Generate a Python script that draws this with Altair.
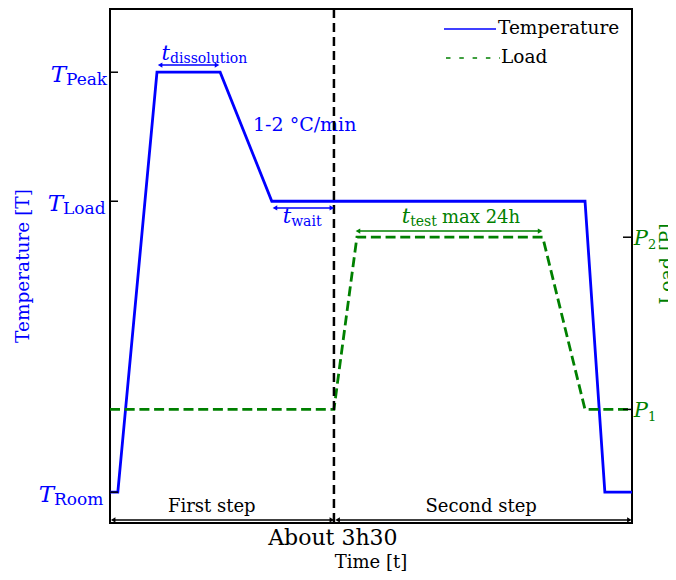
import altair as alt
import pandas as pd

# ---------------- data ----------------
SERIES = ["Temperature", "Load"]

T_LEVEL_NAMES = ["Room", "Load", "Peak"]
T_LEVELS = [6.0, 62.6, 87.7]
P_LEVEL_NAMES = ["1", "2"]
P_LEVELS = [22.1, 55.6]

TEMP_TIME = [0.0, 1.5, 9.0, 21.1, 31.0, 91.0, 94.8, 100.0]
TEMP_VALUE = [6.0, 6.0, 87.7, 87.7, 62.6, 62.6, 6.0, 6.0]
LOAD_TIME = [0.0, 42.9, 47.3, 82.9, 91.0, 100.0]
LOAD_VALUE = [22.1, 22.1, 55.6, 55.6, 22.1, 22.1]
STEP_BOUNDARY = [42.9]

ARROW_START = [9.6, 31.6, 47.5, 0.6, 43.6]
ARROW_END = [20.5, 42.5, 82.4, 42.5, 99.5]
ARROW_LEVEL = [89.1, 61.3, 56.8, 0.6, 0.6]
ARROW_GROUP = ["blue", "blue", "green", "black", "black"]

SUB_MAIN = ["t", "t", "t"]
SUB_TEXT = ["dissolution", "wait", "test"]
SUB_TIME = [11.5, 34.7, 57.5]
SUB_LEVEL = [90.1, 58.4, 58.4]
SUB_GROUP = ["blue", "blue", "green"]

RATE_LABEL = ["1-2 °C/min"]
RATE_TIME = [27.4]
RATE_LEVEL = [77.4]

TEST_EXTRA = ["max 24h"]
TEST_EXTRA_TIME = [63.6]
TEST_EXTRA_LEVEL = [58.4]

STEP_LABELS = ["First step", "Second step"]
STEP_LABEL_TIME = [19.5, 71.1]
STEP_LABEL_LEVEL = [3.1, 3.1]

DURATION_LABEL = ["About 3h30"]
DURATION_TIME = [42.7]
DURATION_LEVEL = [-2.9]

X_TITLE = ["Time [t]"]
X_TITLE_TIME = [50.0]
X_TITLE_LEVEL = [-7.7]

# ---------------- styles ----------------
BLUE = "#0000ff"
GREEN = "#008000"
COLORS = {"blue": BLUE, "green": GREEN, "black": "black"}
FONT = "DejaVu Serif"
W, H = 522, 514
T_ANCHOR_PX = [-56, -47, -44]   # where the italic T ends / subscript begins
LEGEND_X0, LEGEND_X1 = 334, 386
LEGEND_ROWS_PX = [20, 49]

XS = alt.Scale(domain=[0, 100], zero=False, nice=False)
YS = alt.Scale(domain=[0, 100], zero=False, nice=False)


def xq(f):
    return alt.X(f + ":Q", scale=XS, axis=None)


def yq(f):
    return alt.Y(f + ":Q", scale=YS, axis=None)


# ---------------- tables ----------------
temp_df = pd.DataFrame({"idx": range(len(TEMP_TIME)), "t": TEMP_TIME, "v": TEMP_VALUE})
load_df = pd.DataFrame({"idx": range(len(LOAD_TIME)), "t": LOAD_TIME, "v": LOAD_VALUE})

arrow_df = pd.DataFrame({"t0": ARROW_START, "t1": ARROW_END, "v": ARROW_LEVEL,
                         "c": [COLORS[g] for g in ARROW_GROUP]})

temp_line = alt.Chart(temp_df).mark_line(strokeWidth=2.8, color=BLUE).encode(
    x=xq("t"), y=yq("v"), order=alt.Order("idx:Q"))
load_line = alt.Chart(load_df).mark_line(strokeWidth=2.8, color=GREEN,
                                         strokeDash=[10, 4.7]).encode(
    x=xq("t"), y=yq("v"), order=alt.Order("idx:Q"))

boundary = alt.Chart(pd.DataFrame({"t": STEP_BOUNDARY})).mark_rule(
    color="black", strokeWidth=2.5, strokeDash=[9, 5]).encode(x=xq("t"))

arrow_lines = alt.Chart(arrow_df).mark_rule(strokeWidth=1.5).encode(
    x=xq("t0"), x2="t1:Q", y=yq("v"), color=alt.Color("c:N", scale=None))
arrow_left = alt.Chart(arrow_df).mark_point(shape="triangle-left", filled=True,
                                            size=28, opacity=1).encode(
    x=xq("t0"), y=yq("v"), color=alt.Color("c:N", scale=None))
arrow_right = alt.Chart(arrow_df).mark_point(shape="triangle-right", filled=True,
                                             size=28, opacity=1).encode(
    x=xq("t1"), y=yq("v"), color=alt.Color("c:N", scale=None))


def text_layer(labels, times, levels, **kw):
    df = pd.DataFrame({"label": labels, "t": times, "v": levels})
    return alt.Chart(df).mark_text(font=FONT, **kw).encode(
        x=xq("t"), y=yq("v"), text="label:N")


sub_df = pd.DataFrame({"main": SUB_MAIN, "sub": SUB_TEXT, "t": SUB_TIME,
                       "v": SUB_LEVEL, "c": [COLORS[g] for g in SUB_GROUP]})
sub_main = alt.Chart(sub_df).mark_text(font=FONT, fontStyle="italic", fontSize=21,
                                       align="right", baseline="alphabetic").encode(
    x=xq("t"), y=yq("v"), text="main:N", color=alt.Color("c:N", scale=None))
sub_sub = alt.Chart(sub_df).mark_text(font=FONT, fontSize=14, align="left",
                                      baseline="alphabetic", dy=3).encode(
    x=xq("t"), y=yq("v"), text="sub:N", color=alt.Color("c:N", scale=None))

rate = text_layer(RATE_LABEL, RATE_TIME, RATE_LEVEL, fontSize=19, color=BLUE,
                  align="left", baseline="middle")
test_extra = text_layer(TEST_EXTRA, TEST_EXTRA_TIME, TEST_EXTRA_LEVEL, fontSize=18,
                        color=GREEN, align="left", baseline="alphabetic")
steps = text_layer(STEP_LABELS, STEP_LABEL_TIME, STEP_LABEL_LEVEL, fontSize=18,
                   color="black", align="center", baseline="middle")
duration = text_layer(DURATION_LABEL, DURATION_TIME, DURATION_LEVEL, fontSize=22,
                      color="black", align="center", baseline="middle")
x_title = text_layer(X_TITLE, X_TITLE_TIME, X_TITLE_LEVEL, fontSize=18,
                     color="black", align="center", baseline="middle")

# ticks
t_tick_df = pd.DataFrame({"v": T_LEVELS, "name": T_LEVEL_NAMES, "px": T_ANCHOR_PX})
p_tick_df = pd.DataFrame({"v": P_LEVELS, "name": P_LEVEL_NAMES})

t_ticks = alt.Chart(t_tick_df).mark_rule(color="black", strokeWidth=1.5).encode(
    y=yq("v"), x=alt.value(0), x2=alt.value(8))
p_ticks = alt.Chart(p_tick_df).mark_rule(color="black", strokeWidth=1.5).encode(
    y=yq("v"), x=alt.value(W - 9), x2=alt.value(W))

t_main = alt.Chart(t_tick_df).mark_text(font=FONT, fontStyle="italic", fontSize=23,
                                        color=BLUE, align="right",
                                        baseline="alphabetic", dy=10).encode(
    y=yq("v"), x=alt.X("px:Q", scale=None), text=alt.value("T"))
t_sub = alt.Chart(t_tick_df).mark_text(font=FONT, fontSize=17, color=BLUE,
                                       align="left", baseline="alphabetic",
                                       dy=13).encode(
    y=yq("v"), x=alt.X("px:Q", scale=None), text="name:N")
p_main = alt.Chart(p_tick_df).mark_text(font=FONT, fontStyle="italic", fontSize=21,
                                        color=GREEN, align="right",
                                        baseline="alphabetic", dy=8).encode(
    y=yq("v"), x=alt.value(W + 16), text=alt.value("P"))
p_sub = alt.Chart(p_tick_df).mark_text(font=FONT, fontSize=13, color=GREEN,
                                       align="left", baseline="alphabetic",
                                       dy=12).encode(
    y=yq("v"), x=alt.value(W + 16), text="name:N")

# axis titles
y_title = alt.Chart(pd.DataFrame({"label": ["Temperature [T]"]})).mark_text(
    font=FONT, fontSize=18.5, color=BLUE, angle=270, align="center",
    baseline="middle").encode(x=alt.value(-87), y=alt.value(257), text="label:N")
y2_title = alt.Chart(pd.DataFrame({"label": ["Load [P]"]})).mark_text(
    font=FONT, fontSize=19, color=GREEN, angle=270, align="center",
    baseline="middle").encode(x=alt.value(W + 35), y=alt.value(255), text="label:N")

# legend (drawn by hand, top right)
leg_df = pd.DataFrame({"series": SERIES, "c": [BLUE, GREEN]})
leg_solid = alt.Chart(leg_df.iloc[[0]]).mark_rule(strokeWidth=1.6).encode(
    x=alt.value(LEGEND_X0), x2=alt.value(LEGEND_X1), y=alt.value(LEGEND_ROWS_PX[0]),
    color=alt.Color("c:N", scale=None))
leg_dash = alt.Chart(leg_df.iloc[[1]]).mark_rule(strokeWidth=1.6,
                                                 strokeDash=[4.5, 8.8]).encode(
    x=alt.value(LEGEND_X0 + 2), x2=alt.value(LEGEND_X1 + 4),
    y=alt.value(LEGEND_ROWS_PX[1]), color=alt.Color("c:N", scale=None))
leg_text = alt.Chart(pd.DataFrame({"series": SERIES, "py": LEGEND_ROWS_PX,
                                   "px": [LEGEND_X1 + 2, LEGEND_X1 + 5]})).mark_text(
    font=FONT, fontSize=18.5, color="black", align="left", baseline="middle",
    dy=-1).encode(x=alt.X("px:Q", scale=None), y=alt.Y("py:Q", scale=None),
                  text="series:N")

chart = alt.layer(
    rate, temp_line, load_line, boundary, arrow_lines, arrow_left, arrow_right,
    sub_main, sub_sub, test_extra, steps, duration, x_title,
    t_ticks, p_ticks, t_main, t_sub, p_main, p_sub, y_title, y2_title,
    leg_solid, leg_dash, leg_text,
).properties(
    width=W, height=H,
    autosize=alt.AutoSizeParams(type="none"),
    padding={"left": 102, "top": 1, "right": 36, "bottom": 49},
).configure_view(stroke="black", strokeWidth=2)

chart.save("out.html", embed_options={"renderer": "svg", "actions": False})
